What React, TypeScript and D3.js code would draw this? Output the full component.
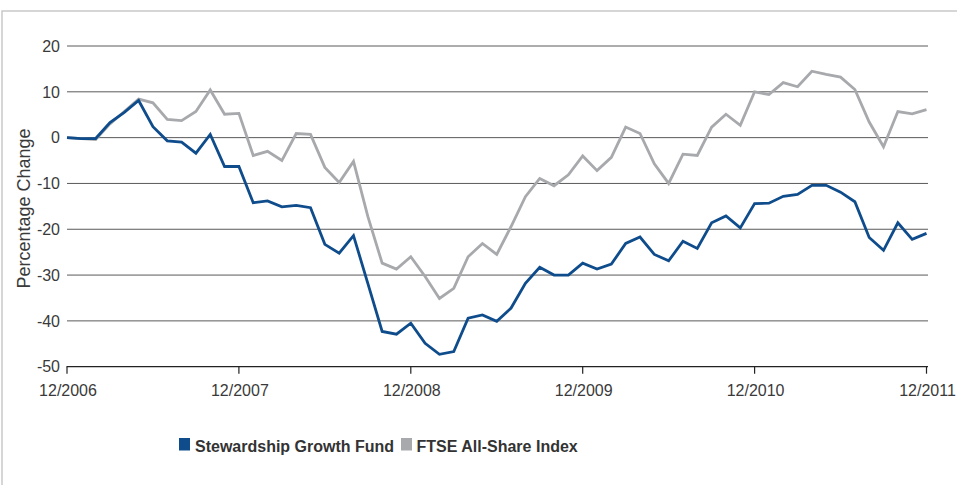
import React from 'react';
import * as d3 from 'd3';

const width = 957;
const height = 485;
const margin = { top: 46, right: 30, bottom: 118, left: 67 };

// monthly, Dec 2006 .. Dec 2011
const fund = [
  0, -0.2, -0.2, 3.3, 5.5, 8.1, 2.4, -0.7, -1.0, -3.4, 0.7, -6.3, -6.3,
  -14.2, -13.8, -15.1, -14.8, -15.3, -23.3, -25.2, -21.4, -31.8, -42.3, -42.9, -40.5,
  -44.9, -47.3, -46.7, -39.4, -38.7, -40.1, -37.2, -31.8, -28.3, -30.0, -30.0, -27.4,
  -28.7, -27.6, -23.1, -21.7, -25.5, -26.9, -22.6, -24.2, -18.6, -17.1, -19.7, -14.4,
  -14.3, -12.8, -12.4, -10.4, -10.4, -11.9, -14.0, -21.8, -24.6, -18.6, -22.2, -20.9,
];
const ftse = [
  0, -0.2, -0.4, 3.0, 5.7, 8.4, 7.6, 4.0, 3.7, 5.7, 10.4, 5.1, 5.3,
  -3.9, -3.0, -5.0, 0.9, 0.7, -6.5, -9.8, -5.2, -17.2, -27.4, -28.7, -26.0,
  -30.3, -35.1, -32.9, -26.0, -23.1, -25.5, -19.4, -12.9, -8.9, -10.5, -8.1, -4.0,
  -7.2, -4.3, 2.3, 0.9, -5.7, -10.0, -3.6, -3.9, 2.3, 5.1, 2.7, 10.0,
  9.4, 12.0, 11.1, 14.5, 13.8, 13.2, 10.5, 3.4, -2.0, 5.7, 5.2, 6.1,
];
const yTicks = [20, 10, 0, -10, -20, -30, -40, -50];
const xTickMonths = [0, 12, 24, 36, 48, 60];
const xTickLabels = ['12/2006', '12/2007', '12/2008', '12/2009', '12/2010', '12/2011'];
const seriesNames = ['Stewardship Growth Fund', 'FTSE All-Share Index'];
const seriesColors = ['#0f4c8c', '#a7a9ac'];

const font = '"Liberation Sans", Arial, Helvetica, sans-serif';

export default function App() {
  const x = d3
    .scaleLinear()
    .domain([0, 60])
    .range([margin.left, width - margin.right - 0.5]);
  const y = d3
    .scaleLinear()
    .domain([-50, 20])
    .range([366.7, margin.top]);

  const line = d3
    .line<number>()
    .x((d, i) => x(i))
    .y(d => y(d));

  return (
    <svg
      width={width}
      height={height}
      style={{ position: 'absolute', left: 0, top: 0, background: '#fff' }}
      fontFamily={font}
    >
      <rect x={2} y={11} width={990} height={500} fill="none" stroke="#c9c9c9" strokeWidth={1.5} />

      {yTicks.map(t => (
        <g key={t}>
          {t !== -50 && (
            <line x1={x(0)} x2={x(60) + 1.5} y1={y(t)} y2={y(t)} stroke="#5a5a5a" strokeWidth={1} />
          )}
          <text x={60} y={y(t)} dy="0.36em" textAnchor="end" fontSize={16} fill="#3a3a3a">
            {t}
          </text>
        </g>
      ))}

      <text
        transform={`translate(29.5, 208.5) rotate(-90)`}
        textAnchor="middle"
        fontSize={18}
        fill="#3a3a3a"
      >
        Percentage Change
      </text>

      <path d={line(ftse) || ''} fill="none" stroke={seriesColors[1]} strokeWidth={2.8} strokeLinejoin="miter" />
      <path d={line(fund) || ''} fill="none" stroke={seriesColors[0]} strokeWidth={2.8} strokeLinejoin="miter" />

      <line x1={x(0) - 0.5} x2={x(60) + 1.5} y1={y(-50)} y2={y(-50)} stroke="#222" strokeWidth={1.3} />
      {xTickMonths.map((m, i) => (
        <g key={m}>
          <line x1={x(m)} x2={x(m)} y1={y(-50)} y2={y(-50) + 7} stroke="#222" strokeWidth={1.2} />
          <text x={x(m) + 1} y={395.5} textAnchor="middle" fontSize={16} fill="#3a3a3a">
            {xTickLabels[i]}
          </text>
        </g>
      ))}

      <g fontSize={16} fontWeight="bold" fill="#333">
        <rect x={179} y={438} width={11} height={12.5} fill={seriesColors[0]} />
        <text x={195} y={451.5}>{seriesNames[0]}</text>
        <rect x={401} y={438} width={11} height={12.5} fill={seriesColors[1]} />
        <text x={416.5} y={451.5}>{seriesNames[1]}</text>
      </g>
    </svg>
  );
}
